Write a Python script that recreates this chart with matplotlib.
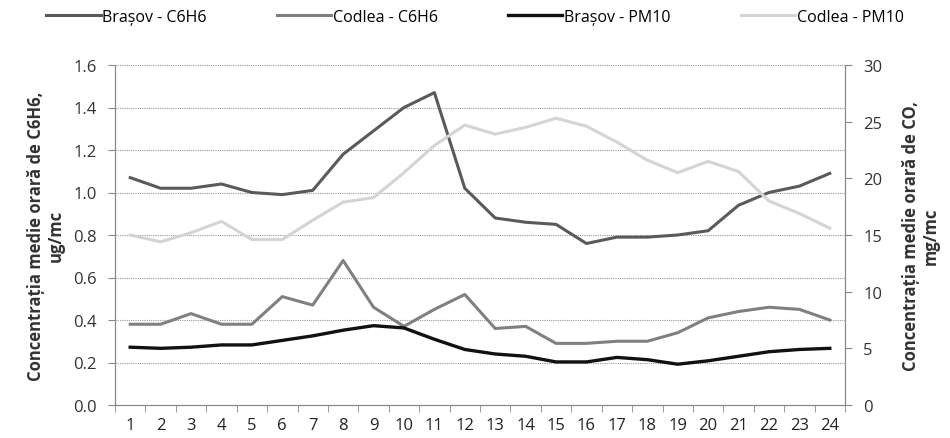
import matplotlib
matplotlib.use("Agg")
import matplotlib.pyplot as plt
import numpy as np

hours = list(range(1, 25))
brasov_c6h6 = [1.07, 1.02, 1.02, 1.04, 1.00, 0.99, 1.01, 1.18, 1.29, 1.40, 1.47, 1.02,
               0.88, 0.86, 0.85, 0.76, 0.79, 0.79, 0.80, 0.82, 0.94, 1.00, 1.03, 1.09]
codlea_c6h6 = [0.38, 0.38, 0.43, 0.38, 0.38, 0.51, 0.47, 0.68, 0.46, 0.37, 0.45, 0.52,
               0.36, 0.37, 0.29, 0.29, 0.30, 0.30, 0.34, 0.41, 0.44, 0.46, 0.45, 0.40]
brasov_pm10 = [5.1, 5.0, 5.1, 5.3, 5.3, 5.7, 6.1, 6.6, 7.0, 6.8, 5.8, 4.9,
               4.5, 4.3, 3.8, 3.8, 4.2, 4.0, 3.6, 3.9, 4.3, 4.7, 4.9, 5.0]
codlea_pm10 = [15.0, 14.4, 15.2, 16.2, 14.6, 14.6, 16.3, 17.9, 18.3, 20.5, 22.9, 24.7,
               23.9, 24.5, 25.3, 24.6, 23.2, 21.6, 20.5, 21.5, 20.6, 18.0, 16.9, 15.6]

left_ticks = [0.0, 0.2, 0.4, 0.6, 0.8, 1.0, 1.2, 1.4, 1.6]
right_ticks = [0, 5, 10, 15, 20, 25, 30]

plt.rcParams['font.family'] = ['Open Sans', 'DejaVu Sans']

fig = plt.figure(figsize=(9.5, 4.39), dpi=100)
ax = fig.add_axes([115/950, 1-406/439, 730/950, 340/439])
ax2 = ax.twinx()

x = np.arange(len(hours))
l1, = ax.plot(x, brasov_c6h6, color='#5a5a5a', lw=2.2, label='Brașov - C6H6')
l2, = ax.plot(x, codlea_c6h6, color='#808080', lw=2.2, label='Codlea - C6H6')
l3, = ax2.plot(x, brasov_pm10, color='#111111', lw=2.4, label='Brașov - PM10')
l4, = ax2.plot(x, codlea_pm10, color='#d4d4d4', lw=2.2, label='Codlea - PM10')

ax.set_xlim(-0.5, 23.5)
ax.set_ylim(0, 1.6)
ax2.set_ylim(0, 30)
ax.set_yticks(left_ticks)
ax.set_yticklabels([f"{v:.1f}" for v in left_ticks])
ax2.set_yticks(right_ticks)
ax.set_xticks(x)
ax.set_xticklabels([str(h) for h in hours])
ax.set_xticks(np.arange(-0.5, 24, 1), minor=True)
ax.tick_params(axis='x', which='major', length=0, pad=9, labelsize=12, colors='#222222')
ax.tick_params(axis='x', which='minor', length=5, direction='out', color='#888888')
ax.tick_params(axis='y', length=5, direction='out', color='#888888', labelsize=12, labelcolor='#333333', pad=8)
ax2.tick_params(axis='y', length=5, direction='out', color='#888888', labelsize=12, labelcolor='#333333', pad=8)

ax.yaxis.grid(True, color='#999999', lw=0.8, ls=(0, (1, 1)))
ax.set_axisbelow(True)
for a in (ax, ax2):
    a.spines['top'].set_visible(False)
    a.spines['left'].set_color('#888888')
    a.spines['right'].set_color('#888888')
    a.spines['bottom'].set_color('#888888')

ax.set_ylabel('Concentrația medie orară de C6H6,\nug/mc', fontsize=12, fontweight='bold',
              color='#333333', labelpad=6, linespacing=1.15)
ax2.set_ylabel('Concentrația medie orară de CO,\nmg/mc', fontsize=12, fontweight='bold',
               color='#333333', labelpad=14, linespacing=1.15)

fig.legend(handles=[l1, l2, l3, l4], loc='upper center', bbox_to_anchor=(0.5, 1.01),
           ncol=4, frameon=False, fontsize=11.5, handlelength=3.4, handletextpad=0.1,
           columnspacing=4.4)

fig.savefig('out.png', dpi=100)
